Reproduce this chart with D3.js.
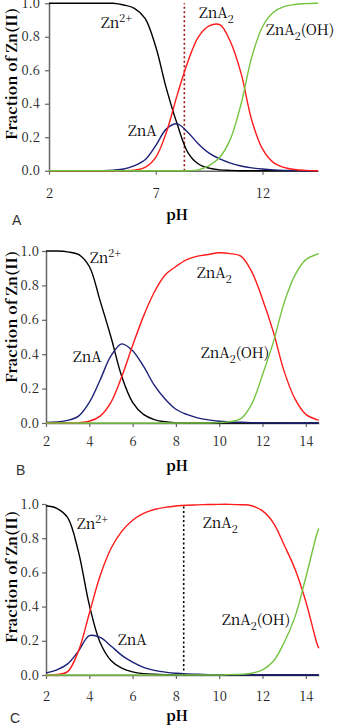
<!DOCTYPE html>
<html>
<head>
<meta charset="utf-8">
<script src="https://cdn.jsdelivr.net/npm/d3@7"></script>
<style>
  body { margin: 0; background: #fff; }
</style>
</head>
<body>
<div id="chart"></div>
<script>

// pH sample points (every 0.5 pH, last one is the axis end)
var pH = [2, 2.5, 3, 3.5, 4, 4.5, 5, 5.5, 6, 6.5, 7, 7.5, 8, 8.5, 9, 9.5, 10,
          10.5, 11, 11.5, 12, 12.5, 13, 13.5, 14, 14.5, 14.6];

// Panel A
var znA_free  = [1, 1, 1, 1, 1, 1, 1, 0.99, 0.97, 0.91, 0.74, 0.49, 0.28, 0.11, 0.04, 0.015, 0.005,
                 0.002, 0, 0, 0, 0, 0, 0, 0, 0, 0];
var znA_ZnA   = [0, 0, 0, 0, 0, 0, 0.003, 0.01, 0.03, 0.065, 0.15, 0.25, 0.28, 0.23, 0.16, 0.105, 0.07,
                 0.045, 0.028, 0.017, 0.01, 0.005, 0.002, 0.001, 0, 0, 0];
var znA_ZnA2  = [0, 0, 0, 0, 0, 0, 0, 0, 0.003, 0.02, 0.08, 0.23, 0.45, 0.65, 0.80, 0.865, 0.872,
                 0.77, 0.58, 0.30, 0.13, 0.05, 0.02, 0.007, 0.002, 0, 0];
var znA_ZnA2OH = [0, 0, 0, 0, 0, 0, 0, 0, 0, 0, 0, 0, 0, 0, 0.005, 0.03, 0.08,
                  0.19, 0.40, 0.68, 0.86, 0.945, 0.98, 0.993, 0.998, 1, 1];

// Panel B
var znB_free  = [1, 1, 0.995, 0.98, 0.91, 0.71, 0.50, 0.27, 0.12, 0.05, 0.02, 0.007, 0.002, 0, 0, 0, 0,
                 0, 0, 0, 0, 0, 0, 0, 0, 0, 0];
var znB_ZnA   = [0.003, 0.006, 0.015, 0.04, 0.12, 0.25, 0.39, 0.46, 0.42, 0.33, 0.22, 0.14, 0.08, 0.05, 0.03, 0.018, 0.01,
                 0.006, 0.004, 0.002, 0.001, 0.001, 0, 0, 0, 0, 0];
var znB_ZnA2  = [0, 0, 0, 0.002, 0.01, 0.04, 0.12, 0.27, 0.45, 0.62, 0.76, 0.86, 0.91, 0.95, 0.97, 0.98, 0.99,
                 0.985, 0.97, 0.88, 0.72, 0.53, 0.30, 0.14, 0.05, 0.02, 0.017];
var znB_ZnA2OH = [0, 0, 0, 0, 0, 0, 0, 0, 0, 0, 0, 0, 0, 0, 0, 0, 0.002,
                  0.008, 0.025, 0.11, 0.28, 0.47, 0.70, 0.86, 0.95, 0.98, 0.985];

// Panel C
var znC_free  = [0.99, 0.975, 0.92, 0.72, 0.41, 0.19, 0.085, 0.04, 0.018, 0.008, 0.004, 0.002, 0.001, 0, 0, 0, 0,
                 0, 0, 0, 0, 0, 0, 0, 0, 0, 0];
var znC_ZnA   = [0.012, 0.03, 0.065, 0.14, 0.23, 0.22, 0.17, 0.115, 0.075, 0.045, 0.027, 0.017, 0.01, 0.006, 0.004, 0.002, 0.001,
                 0.001, 0, 0, 0, 0, 0, 0, 0, 0, 0];
var znC_ZnA2  = [0, 0.003, 0.02, 0.14, 0.36, 0.58, 0.74, 0.84, 0.905, 0.945, 0.968, 0.98, 0.988, 0.993, 0.995, 0.997, 0.998,
                 0.998, 0.996, 0.99, 0.96, 0.89, 0.76, 0.62, 0.43, 0.19, 0.156];
var znC_ZnA2OH = [0, 0, 0, 0, 0, 0, 0, 0, 0, 0, 0, 0, 0, 0, 0, 0, 0,
                  0.002, 0.004, 0.01, 0.03, 0.08, 0.19, 0.34, 0.57, 0.82, 0.857];

// ticks
var xTicksA = [2, 7, 12];
var xTicksBC = [2, 4, 6, 8, 10, 12, 14];
var yTicks = [0, 0.2, 0.4, 0.6, 0.8, 1.0];

// dotted marker lines (pH), none in B
var markerPH = [8.34, null, 8.36];

var colors = ["#000000", "#1b2178", "#ff1a1a", "#74c440"];

var serif = "'Noto Serif CJK JP', 'Liberation Serif', serif";

var svg = d3.select("#chart")
  .append("svg")
  .attr("width", 340)
  .attr("height", 728)
  .style("background", "#fff")
  .style("font-family", serif);

var panels = [
  { name: "A", series: [znA_free, znA_ZnA, znA_ZnA2, znA_ZnA2OH], xTicks: xTicksA, marker: markerPH[0], markerColor: "#a01010",
    left: 49, right: 318, top: 3.3, bottom: 170.7, xPad: 14, yPad: 5, titleY: 74, pHY: 220, letter: [12, 225],
    lab: { zn: [101, 28], znA: [128, 136], znA2: [199, 18], znA2OH: [266, 35] } },
  { name: "B", series: [znB_free, znB_ZnA, znB_ZnA2, znB_ZnA2OH], xTicks: xTicksBC, marker: markerPH[1], markerColor: "#000",
    left: 46, right: 318.8, top: 251, bottom: 423, xPad: 10, yPad: 3, titleY: 317, pHY: 471, letter: [16, 475],
    lab: { zn: [90, 263], znA: [73, 362], znA2: [197, 278], znA2OH: [201, 358] } },
  { name: "C", series: [znC_free, znC_ZnA, znC_ZnA2, znC_ZnA2OH], xTicks: xTicksBC, marker: markerPH[2], markerColor: "#000",
    left: 46, right: 318.8, top: 504, bottom: 675, xPad: 13, yPad: 3, titleY: 577, pHY: 721, letter: [10, 723],
    lab: { zn: [77, 529], znA: [118, 645], znA2: [203, 528], znA2OH: [222, 625] } }
];

function drawPanel(p) {
  var x = d3.scaleLinear().domain([2, 14.6]).range([p.left, p.right]);
  var y = d3.scaleLinear().domain([0, 1]).range([p.bottom, p.top]);

  var g = svg.append("g");

  // axes
  var xAxis = g.append("g")
    .attr("transform", `translate(0, ${p.bottom})`)
    .call(d3.axisBottom(x).tickValues(p.xTicks).tickFormat(d3.format("d"))
      .tickSize(4).tickSizeOuter(0).tickPadding(p.xPad));
  var yAxis = g.append("g")
    .attr("transform", `translate(${p.left}, 0)`)
    .call(d3.axisLeft(y).tickValues(yTicks).tickFormat(d3.format(".1f"))
      .tickSize(4).tickSizeOuter(0).tickPadding(p.yPad));

  [xAxis, yAxis].forEach(function(a) {
    a.attr("font-family", null);
    a.select(".domain").attr("stroke", "#666").attr("stroke-width", 1.5);
    a.selectAll(".tick line").attr("stroke", "#666").attr("stroke-width", 1.2);
    a.selectAll(".tick text")
      .attr("fill", "#222")
      .style("font-family", serif)
      .style("font-size", "13px");
  });

  // dotted marker
  if (p.marker != null) {
    g.append("line")
      .attr("x1", x(p.marker)).attr("x2", x(p.marker))
      .attr("y1", y(0)).attr("y2", y(1))
      .attr("stroke", p.markerColor)
      .attr("stroke-width", 1.6)
      .attr("stroke-dasharray", "2,2.5");
  }

  // curves: order black, blue, red, green
  var line = d3.line()
    .x(function(d, i) { return x(pH[i]); })
    .y(function(d) { return y(d); })
    .curve(d3.curveCatmullRom.alpha(0.5));

  p.series.forEach(function(s, k) {
    g.append("path")
      .datum(s)
      .attr("d", line)
      .attr("fill", "none")
      .attr("stroke", colors[k])
      .attr("stroke-width", 1.4);
  });

  // species labels
  var fs = 14.5;
  var t1 = g.append("text").attr("x", p.lab.zn[0]).attr("y", p.lab.zn[1]).style("font-size", fs + "px");
  t1.append("tspan").text("Zn");
  t1.append("tspan").attr("dy", -6).style("font-size", "11px").text("2+");

  g.append("text").attr("x", p.lab.znA[0]).attr("y", p.lab.znA[1]).style("font-size", fs + "px").text("ZnA");

  var t3 = g.append("text").attr("x", p.lab.znA2[0]).attr("y", p.lab.znA2[1]).style("font-size", fs + "px");
  t3.append("tspan").text("ZnA");
  t3.append("tspan").attr("dy", 5).style("font-size", "11px").text("2");

  var t4 = g.append("text").attr("x", p.lab.znA2OH[0]).attr("y", p.lab.znA2OH[1]).style("font-size", fs + "px");
  t4.append("tspan").text("ZnA");
  t4.append("tspan").attr("dy", 5).style("font-size", "11px").text("2");
  t4.append("tspan").attr("dy", -5).text("(OH)");

  // axis titles
  g.append("text")
    .attr("transform", `translate(16.5, ${p.titleY}) rotate(-90)`)
    .attr("text-anchor", "middle")
    .attr("textLength", 132)
    .attr("lengthAdjust", "spacingAndGlyphs")
    .style("font-size", "14.5px")
    .style("font-weight", "bold")
    .text("Fraction of Zn(II)");

  g.append("text")
    .attr("x", 177)
    .attr("y", p.pHY)
    .attr("text-anchor", "middle")
    .style("font-size", "14.5px")
    .style("font-weight", "bold")
    .text("pH");

  // panel letter
  g.append("text")
    .attr("x", p.letter[0])
    .attr("y", p.letter[1])
    .style("font-family", "'Liberation Sans', Arial, sans-serif")
    .style("font-size", "14px")
    .attr("fill", "#333")
    .text(p.name);
}

panels.forEach(drawPanel);

</script>
</body>
</html>
